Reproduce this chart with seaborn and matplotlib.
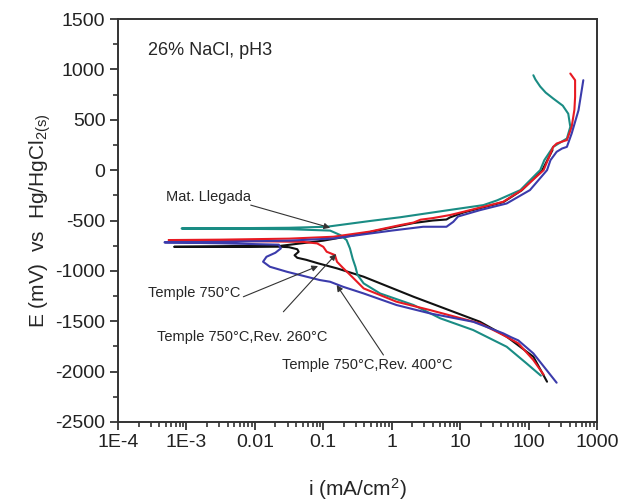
import numpy as np
import pandas as pd
import matplotlib
matplotlib.use("Agg")
import matplotlib.pyplot as plt
from matplotlib.ticker import NullFormatter, FixedLocator
import seaborn as sns

# ---- data (log10 of current density in mA/cm2, potential in mV) ----
teal_logi = [2.18, 1.97, 1.68, 1.19, 0.71, 0.32, -0.17, -0.41, -0.50, -0.53, -0.57, -0.61, -0.66, -0.75, -0.90, -1.5, -2.5, -3.07,
             -2.5, -1.5, -0.95, -0.32, 0.12, 0.80, 1.34, 1.54, 1.88, 2.12, 2.17, 2.23, 2.36, 2.50, 2.56, 2.61, 2.58, 2.50, 2.36, 2.25, 2.17, 2.10, 2.07]
teal_E = [-2040, -1918, -1753, -1587, -1471, -1339, -1224, -1124, -1040, -960, -880, -777, -694, -645, -600, -586, -581, -579,
          -577, -572, -562, -505, -468, -400, -347, -300, -198, -33, 0, 99, 231, 290, 314, 430, 560, 640, 711, 770, 830, 900, 942]

red_logi = [2.22, 2.07, 1.85, 1.63, 1.29, 0.56, 0.07, -0.41, -0.58, -0.71, -0.80, -0.83, -0.95, -1.00, -1.09, -1.3, -2.0, -3.26,
            -2.5, -1.5, -0.85, -0.32, 0.12, 0.32, 0.42, 0.60, 0.85, 1.05, 1.63, 1.90, 2.22, 2.36, 2.41, 2.52, 2.56, 2.63, 2.67, 2.68, 2.68, 2.61]
red_E = [-2030, -1885, -1719, -1637, -1521, -1389, -1306, -1174, -1058, -972, -909, -843, -810, -761, -727, -712, -705, -694,
         -690, -680, -661, -610, -546, -520, -492, -476, -446, -413, -314, -198, 0, 231, 264, 290, 298, 430, 600, 727, 893, 959]

blue_logi = [2.41, 2.07, 1.85, 1.75, 1.63, 1.19, 0.56, 0.07, -0.41, -0.71, -0.90, -1.05, -1.53, -1.78, -1.88, -1.83, -1.70, -1.62, -1.65, -2.5, -3.32,
             -2.5, -1.5, -0.85, 0.00, 0.46, 0.80, 0.90, 0.97, 1.29, 1.68, 2.02, 2.27, 2.32, 2.41, 2.49, 2.56, 2.63, 2.73, 2.80]
blue_E = [-2110, -1819, -1690, -1660, -1620, -1505, -1422, -1339, -1224, -1158, -1108, -1091, -1009, -959, -909, -860, -820, -777, -740, -726, -717,
          -712, -700, -678, -600, -562, -562, -513, -460, -397, -331, -198, 0, 99, 182, 215, 231, 364, 595, 893]

black_logi = [2.27, 2.07, 1.68, 1.29, 0.32, -0.41, -0.80, -1.07, -1.25, -1.38, -1.42, -1.36, -1.38, -1.50, -1.63, -2.5, -3.18,
              -2.5, -1.63, -1.0, -0.5, 0.32, 0.60, 0.80, 0.85, 1.05, 1.63, 1.90, 2.20, 2.35]
black_E = [-2100, -1852, -1653, -1505, -1257, -1058, -975, -926, -890, -870, -845, -810, -785, -765, -760, -761, -761,
           -757, -752, -700, -640, -525, -500, -490, -470, -420, -318, -200, 0, 200]

series_names = ["Temple 750°C", "Mat. Llegada", "Temple 750°C,Rev. 260°C", "Temple 750°C,Rev. 400°C"]
series_colors = ["#111111", "#1a8c84", "#e81a22", "#3b3bab"]

xtick_vals = [1e-4, 1e-3, 1e-2, 1e-1, 1, 10, 100, 1000]
xtick_labels = ["1E-4", "1E-3", "0.01", "0.1", "1", "10", "100", "1000"]
ytick_vals = [-2500, -2000, -1500, -1000, -500, 0, 500, 1000, 1500]

sns.set_style("ticks")
plt.rcParams["font.family"] = ["Liberation Sans", "DejaVu Sans"]
plt.rcParams["mathtext.default"] = "regular"
plt.rcParams["axes.unicode_minus"] = False
plt.rcParams["xtick.minor.visible"] = True
plt.rcParams["ytick.minor.visible"] = True
plt.rcParams["xtick.minor.size"] = 3.5
plt.rcParams["ytick.minor.size"] = 3.5
plt.rcParams["xtick.minor.width"] = 1.1
plt.rcParams["ytick.minor.width"] = 1.1

fig = plt.figure(figsize=(6.22, 5.01), dpi=100)
ax = fig.add_axes([0.1897, 0.1577, 0.7701, 0.8043])

all_logi = [black_logi, teal_logi, red_logi, blue_logi]
all_E = [black_E, teal_E, red_E, blue_E]
for name, col, li, E in zip(series_names, series_colors, all_logi, all_E):
    df = pd.DataFrame({"i": 10 ** np.array(li, dtype=float), "E": E})
    sns.lineplot(data=df, x="i", y="E", sort=False, estimator=None, color=col,
                 linewidth=1.5, ax=ax)

ax.set_xscale("log")
ax.set_xlim(1e-4, 1000)
ax.set_ylim(-2500, 1500)
ax.set_xticks(xtick_vals)
ax.set_xticklabels(xtick_labels)
minor_x = [d * m for d in xtick_vals[:-1] for m in range(2, 10)]
ax.xaxis.set_minor_locator(FixedLocator(minor_x))
ax.xaxis.set_minor_formatter(NullFormatter())
ax.set_yticks(ytick_vals)
ax.yaxis.set_minor_locator(FixedLocator(list(np.arange(-2250, 1500, 500))))
ax.tick_params(axis="both", which="major", direction="out", length=5.5, width=1.2, labelsize=14, colors="#222222")
ax.tick_params(axis="both", which="minor", direction="out", length=3.5, width=1.1, color="#222222")
ax.tick_params(axis="x", which="major", pad=3)
for sp in ax.spines.values():
    sp.set_linewidth(1.4)
    sp.set_color("#333333")

ax.set_xlabel("i (mA/cm$^2$)", fontsize=15, labelpad=18)
ax.set_ylabel("E (mV)  vs  Hg/HgCl$_{2(s)}$", fontsize=15, labelpad=2)

ax.text(2.75e-4, 1190, "26% NaCl, pH3", fontsize=13, va="center", ha="left")

arrowprops = dict(arrowstyle="-|>", color="#333333", lw=0.8, mutation_scale=9, shrinkA=0, shrinkB=0)
# Mat. Llegada
ax.text(5.0e-4, -265, "Mat. Llegada", fontsize=10.5, va="center", ha="left")
ax.annotate("", xy=(0.126, -572), xytext=(0.0087, -347), arrowprops=arrowprops)
# Temple 750
ax.text(2.77e-4, -1223, "Temple 750°C", fontsize=10.5, va="center", ha="left")
ax.annotate("", xy=(0.0839, -952), xytext=(0.00679, -1257), arrowprops=arrowprops)
# Rev 260
ax.text(3.68e-4, -1654, "Temple 750°C,Rev. 260°C", fontsize=10.5, va="center", ha="left")
ax.annotate("", xy=(0.154, -833), xytext=(0.0261, -1406), arrowprops=arrowprops)
# Rev 400
ax.text(0.0247, -1934, "Temple 750°C,Rev. 400°C", fontsize=10.5, va="center", ha="left")
ax.annotate("", xy=(0.157, -1141), xytext=(0.757, -1835), arrowprops=arrowprops)

fig.savefig("out.png", dpi=100)
